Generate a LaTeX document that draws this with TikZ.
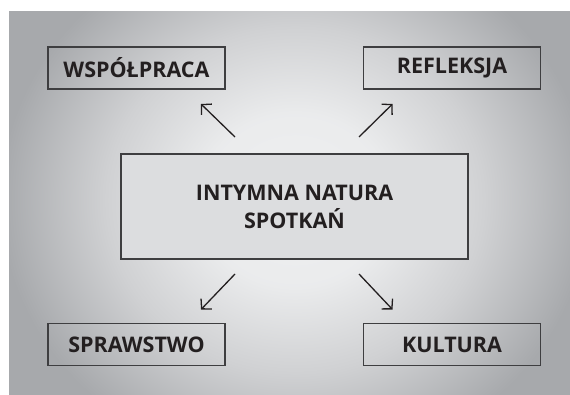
\documentclass[tikz,border=0pt]{standalone}
\usepackage{fontspec}
\setmainfont{Open Sans}
\usetikzlibrary{positioning,calc,arrows.meta}

\definecolor{bglight}{HTML}{EFF0F1}
\definecolor{bgmid}{HTML}{D0D1D3}
\definecolor{bgdark}{HTML}{A7A9AC}
\definecolor{boxfill}{HTML}{DCDDDF}
\definecolor{boxline}{HTML}{3E3E40}
\definecolor{txt}{HTML}{231F20}

\pgfdeclareradialshading{backglow}{\pgfpointorigin}{%
  color(0bp)=(bglight); color(8bp)=(bglight!85!bgmid);
  color(16bp)=(bgmid); color(21bp)=(bgdark!55!bgmid);
  color(25bp)=(bgdark); color(50bp)=(bgdark)}

\begin{document}
\begin{tikzpicture}[x=1pt, y=-1pt,
      every node/.style={font=\fontsize{21.5}{28}\selectfont\bfseries,
                         text=txt, align=center, inner sep=0pt, outer sep=0pt},
      topic/.style={draw=boxline, line width=1.3pt, minimum height=42pt,
                    minimum width=177pt},
      core/.style={topic, fill=boxfill, minimum width=347pt,
                   minimum height=105pt},
      arrow/.style={-{Straight Barb[length=7pt, width=15pt]}, line width=1.3pt,
                    draw=txt},
  ]
    \useasboundingbox (0,0) rectangle (570,395);

    %% --- grey backdrop, brightest near the middle ---
    \begin{scope}
      \clip (9,12) rectangle (570,395);
      \shade[shading=backglow] (0,-70) rectangle (590,470);
    \end{scope}

    %% --- central idea ---
    \node[core] (core) at (294.5,206.5) {INTYMNA NATURA\\SPOTKAŃ};

    %% --- four surrounding boxes ---
    \node[topic] (wsp)  at (136.5,68)  {WSPÓŁPRACA};
    \node[topic] (refl) at (452,68)    {REFLEKSJA};
    \node[topic] (spr)  at (136.5,344.5) {SPRAWSTWO};
    \node[topic] (kult) at (452,344.5) {KULTURA};

    %% --- arrow ends, left free in the gaps ---
    \coordinate (wspA)  at ($(core.north west)+(114,-17)$);
    \coordinate (wspB)  at ($(wsp.south east)+(-24,15)$);
    \coordinate (reflA) at ($(core.north east)+(-109,-17)$);
    \coordinate (reflB) at ($(refl.south west)+(29,15)$);
    \coordinate (sprA)  at ($(core.south west)+(114,15)$);
    \coordinate (sprB)  at ($(spr.north east)+(-24,-14)$);
    \coordinate (kultA) at ($(core.south east)+(-109,15)$);
    \coordinate (kultB) at ($(kult.north west)+(29,-14)$);

    \draw[arrow] (wspA)  -- (wspB);
    \draw[arrow] (reflA) -- (reflB);
    \draw[arrow] (sprA)  -- (sprB);
    \draw[arrow] (kultA) -- (kultB);
  \end{tikzpicture}
\end{document}
